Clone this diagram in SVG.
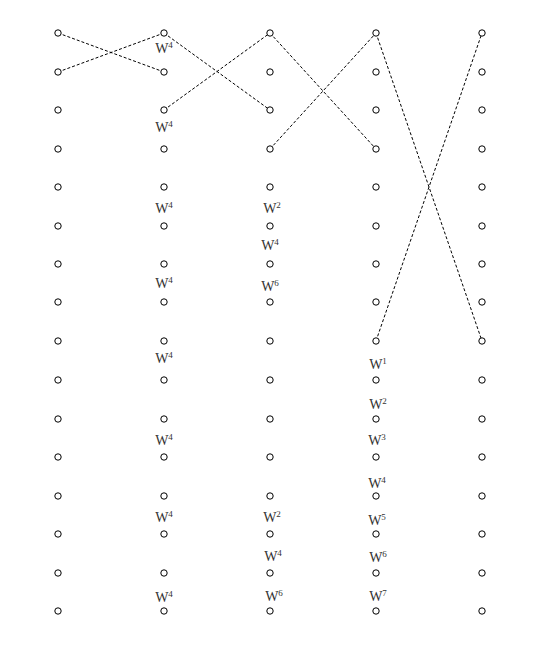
<svg xmlns="http://www.w3.org/2000/svg" width="540" height="650" viewBox="0 0 540 650">
<style>
.n{fill:#fff;stroke:#000;stroke-width:1}
.e{stroke:#000;stroke-width:1;stroke-dasharray:3,2;fill:none}
.t{font-family:"Liberation Serif","Times New Roman",serif;font-size:14px;fill:#333;text-anchor:middle}
.s{font-size:9px}
</style>
<defs><circle id="c" r="3.2" class="n"/></defs>
<rect width="540" height="650" fill="#fff"/>
<g id="connectors">
<line class="e" x1="58" y1="33" x2="164" y2="72"/>
<line class="e" x1="58" y1="72" x2="164" y2="33"/>
<line class="e" x1="164" y1="33" x2="270" y2="110"/>
<line class="e" x1="164" y1="110" x2="270" y2="33"/>
<line class="e" x1="270" y1="33" x2="376" y2="149"/>
<line class="e" x1="270" y1="149" x2="376" y2="33"/>
<line class="e" x1="376" y1="33" x2="482" y2="341"/>
<line class="e" x1="376" y1="341" x2="482" y2="33"/>
</g>
<g id="col1">
<g id="a1"><use href="#c" x="58" y="33"/></g><g id="a2"><use href="#c" x="58" y="72"/></g><g id="a3"><use href="#c" x="58" y="110"/></g><g id="a4"><use href="#c" x="58" y="149"/></g>
<g id="a5"><use href="#c" x="58" y="187"/></g><g id="a6"><use href="#c" x="58" y="226"/></g><g id="a7"><use href="#c" x="58" y="264"/></g><g id="a8"><use href="#c" x="58" y="302"/></g>
<g id="a9"><use href="#c" x="58" y="341"/></g><g id="a10"><use href="#c" x="58" y="380"/></g><g id="a11"><use href="#c" x="58" y="419"/></g><g id="a12"><use href="#c" x="58" y="457"/></g>
<g id="a13"><use href="#c" x="58" y="496"/></g><g id="a14"><use href="#c" x="58" y="534"/></g><g id="a15"><use href="#c" x="58" y="573"/></g><g id="a16"><use href="#c" x="58" y="611"/></g>
</g>
<g id="col2">
<g id="b1"><use href="#c" x="164" y="33"/></g><g id="b2"><use href="#c" x="164" y="72"/></g><g id="b3"><use href="#c" x="164" y="110"/></g><g id="b4"><use href="#c" x="164" y="149"/></g>
<g id="b5"><use href="#c" x="164" y="187"/></g><g id="b6"><use href="#c" x="164" y="226"/></g><g id="b7"><use href="#c" x="164" y="264"/></g><g id="b8"><use href="#c" x="164" y="302"/></g>
<g id="b9"><use href="#c" x="164" y="341"/></g><g id="b10"><use href="#c" x="164" y="380"/></g><g id="b11"><use href="#c" x="164" y="419"/></g><g id="b12"><use href="#c" x="164" y="457"/></g>
<g id="b13"><use href="#c" x="164" y="496"/></g><g id="b14"><use href="#c" x="164" y="534"/></g><g id="b15"><use href="#c" x="164" y="573"/></g><g id="b16"><use href="#c" x="164" y="611"/></g>
</g>
<g id="col3">
<g id="c1"><use href="#c" x="270" y="33"/></g><g id="c2"><use href="#c" x="270" y="72"/></g><g id="c3"><use href="#c" x="270" y="110"/></g><g id="c4"><use href="#c" x="270" y="149"/></g>
<g id="c5"><use href="#c" x="270" y="187"/></g><g id="c6"><use href="#c" x="270" y="226"/></g><g id="c7"><use href="#c" x="270" y="264"/></g><g id="c8"><use href="#c" x="270" y="302"/></g>
<g id="c9"><use href="#c" x="270" y="341"/></g><g id="c10"><use href="#c" x="270" y="380"/></g><g id="c11"><use href="#c" x="270" y="419"/></g><g id="c12"><use href="#c" x="270" y="457"/></g>
<g id="c13"><use href="#c" x="270" y="496"/></g><g id="c14"><use href="#c" x="270" y="534"/></g><g id="c15"><use href="#c" x="270" y="573"/></g><g id="c16"><use href="#c" x="270" y="611"/></g>
</g>
<g id="col4">
<g id="d1"><use href="#c" x="376" y="33"/></g><g id="d2"><use href="#c" x="376" y="72"/></g><g id="d3"><use href="#c" x="376" y="110"/></g><g id="d4"><use href="#c" x="376" y="149"/></g>
<g id="d5"><use href="#c" x="376" y="187"/></g><g id="d6"><use href="#c" x="376" y="226"/></g><g id="d7"><use href="#c" x="376" y="264"/></g><g id="d8"><use href="#c" x="376" y="302"/></g>
<g id="d9"><use href="#c" x="376" y="341"/></g><g id="d10"><use href="#c" x="376" y="380"/></g><g id="d11"><use href="#c" x="376" y="419"/></g><g id="d12"><use href="#c" x="376" y="457"/></g>
<g id="d13"><use href="#c" x="376" y="496"/></g><g id="d14"><use href="#c" x="376" y="534"/></g><g id="d15"><use href="#c" x="376" y="573"/></g><g id="d16"><use href="#c" x="376" y="611"/></g>
</g>
<g id="col5">
<g id="e1"><use href="#c" x="482" y="33"/></g><g id="e2"><use href="#c" x="482" y="72"/></g><g id="e3"><use href="#c" x="482" y="110"/></g><g id="e4"><use href="#c" x="482" y="149"/></g>
<g id="e5"><use href="#c" x="482" y="187"/></g><g id="e6"><use href="#c" x="482" y="226"/></g><g id="e7"><use href="#c" x="482" y="264"/></g><g id="e8"><use href="#c" x="482" y="302"/></g>
<g id="e9"><use href="#c" x="482" y="341"/></g><g id="e10"><use href="#c" x="482" y="380"/></g><g id="e11"><use href="#c" x="482" y="419"/></g><g id="e12"><use href="#c" x="482" y="457"/></g>
<g id="e13"><use href="#c" x="482" y="496"/></g><g id="e14"><use href="#c" x="482" y="534"/></g><g id="e15"><use href="#c" x="482" y="573"/></g><g id="e16"><use href="#c" x="482" y="611"/></g>
</g>
<g id="labels" class="t">
<text x="164" y="53">W<tspan class="s" dy="-5">4</tspan></text>
<text x="164" y="132">W<tspan class="s" dy="-5">4</tspan></text>
<text x="164" y="213">W<tspan class="s" dy="-5">4</tspan></text>
<text x="164" y="288">W<tspan class="s" dy="-5">4</tspan></text>
<text x="164" y="363">W<tspan class="s" dy="-5">4</tspan></text>
<text x="164" y="445">W<tspan class="s" dy="-5">4</tspan></text>
<text x="164" y="522">W<tspan class="s" dy="-5">4</tspan></text>
<text x="164" y="602">W<tspan class="s" dy="-5">4</tspan></text>
<text x="272" y="213">W<tspan class="s" dy="-5">2</tspan></text>
<text x="270" y="250">W<tspan class="s" dy="-5">4</tspan></text>
<text x="270" y="291">W<tspan class="s" dy="-5">6</tspan></text>
<text x="272" y="522">W<tspan class="s" dy="-5">2</tspan></text>
<text x="273" y="561">W<tspan class="s" dy="-5">4</tspan></text>
<text x="274" y="601">W<tspan class="s" dy="-5">6</tspan></text>
<text x="378" y="369">W<tspan class="s" dy="-5">1</tspan></text>
<text x="378" y="409">W<tspan class="s" dy="-5">2</tspan></text>
<text x="377" y="445">W<tspan class="s" dy="-5">3</tspan></text>
<text x="377" y="488">W<tspan class="s" dy="-5">4</tspan></text>
<text x="377" y="525">W<tspan class="s" dy="-5">5</tspan></text>
<text x="378" y="562">W<tspan class="s" dy="-5">6</tspan></text>
<text x="378" y="601">W<tspan class="s" dy="-5">7</tspan></text>
</g>
</svg>
